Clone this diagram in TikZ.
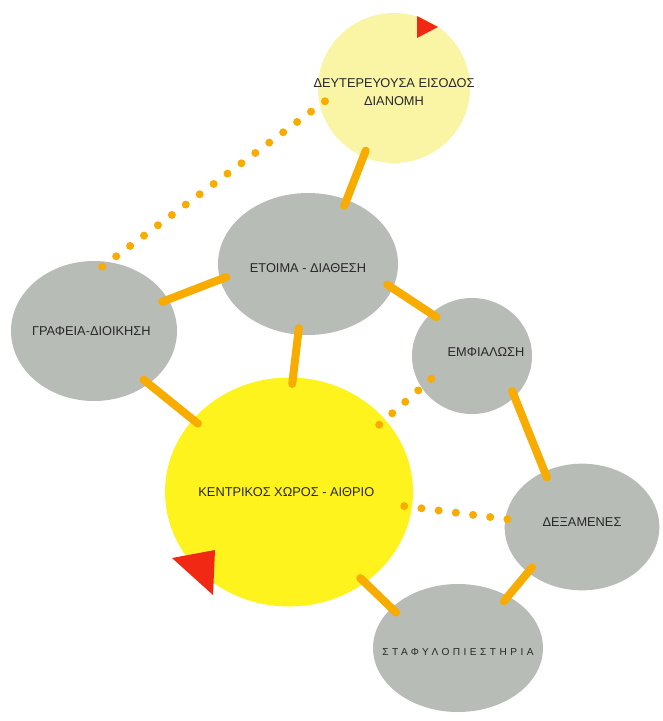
\documentclass[tikz,border=0pt]{standalone}
\usepackage{fontspec}
\setmainfont{Liberation Sans}
\usepackage{xcolor}
\usetikzlibrary{shapes.geometric}

\definecolor{roomgray}{RGB}{183,188,182}
\definecolor{paleyellow}{RGB}{249,245,165}
\definecolor{hubyellow}{RGB}{255,243,30}
\definecolor{linkorange}{RGB}{248,172,0}
\definecolor{markred}{RGB}{240,40,20}
\definecolor{labeltext}{RGB}{40,40,40}

\begin{document}
\begin{tikzpicture}[x=0.75pt, y=-0.75pt,
    room/.style={ellipse, fill=roomgray, inner sep=0pt},
    every label/.style={text=labeltext, font=\fontsize{9.6}{14}\selectfont, align=center},
    link/.style={draw=linkorange, line width=6pt, line cap=round, shorten <=-5pt, shorten >=-5pt},
    dots/.style={draw=linkorange, line width=6pt, line cap=round, dash pattern=on 0pt off 13pt, shorten <=-6pt, shorten >=-6pt},
    marker/.style={fill=markred},
                        ]
    \useasboundingbox (0,0) rectangle (663,721);

    % spaces
    \node[room, fill=paleyellow, minimum width=114pt, minimum height=112.5pt,
          label={[yshift=-3pt]center:ΔΕΥΤΕΡΕΥΟΥΣΑ ΕΙΣΟΔΟΣ\\ΔΙΑΝΟΜΗ}] (eisodos_node) at (394,88) {};
    \node[room, minimum width=135pt, minimum height=106.5pt,
          label={[yshift=-3pt]center:ΕΤΟΙΜΑ - ΔΙΑΘΕΣΗ}] (etoima_node) at (308,264) {};
    \node[room, minimum width=124.5pt, minimum height=105pt,
          label={[xshift=-2pt]center:ΓΡΑΦΕΙΑ-ΔΙΟΙΚΗΣΗ}] (grafeia_node) at (94,331) {};
    \node[room, minimum width=90pt, minimum height=87pt,
          label={[xshift=10.5pt, yshift=3pt]center:ΕΜΦΙΑΛΩΣΗ}] (emfialosi_node) at (472,356) {};
    \node[room, minimum width=116pt, minimum height=95pt,
          label={[yshift=3.5pt]center:ΔΕΞΑΜΕΝΕΣ}] (dexamenes_node) at (582,527) {};
    \node[room, minimum width=127.5pt, minimum height=96pt,
          label={[yshift=-3pt, xshift=0pt, font=\fontsize{7.6}{9}\selectfont\addfontfeature{LetterSpace=34}]center:ΣΤΑΦΥΛΟΠΙΕΣΤΗΡΙΑ}] (pietirio_node) at (458,648) {};
    \node[room, fill=hubyellow, minimum width=186pt, minimum height=171.75pt,
          label={[xshift=-2pt]center:ΚΕΝΤΡΙΚΟΣ ΧΩΡΟΣ - ΑΙΘΡΙΟ}] (aithrio_node) at (289,492) {};

    % connections
    \draw[link] (eisodos_node.246) -- (etoima_node.59);
    \draw[link] (grafeia_node.23) -- (etoima_node.190);
    \draw[link] (etoima_node.-16) -- (emfialosi_node.134);
    \draw[link] (etoima_node.262) -- (aithrio_node.88);
    \draw[link] (grafeia_node.-44) -- (aithrio_node.143);
    \draw[link] (emfialosi_node.-44) -- (dexamenes_node.124);
    \draw[link] (dexamenes_node.220) -- (pietirio_node.46);
    \draw[link] (aithrio_node.-50) -- (pietirio_node.149);

    \draw[dots] (grafeia_node.78) -- (eisodos_node.193);
    \draw[dots, shorten >=-12pt] (aithrio_node.37) -- (emfialosi_node.212);
    \draw[dots] (aithrio_node.-7) -- (dexamenes_node.174);

    % entrances
    \fill[marker] (417,16) -- (417,38) -- (438,27) -- cycle;
    \fill[marker] (172,558) -- (215,550) -- (213,595) -- cycle;

\end{tikzpicture}
\end{document}
